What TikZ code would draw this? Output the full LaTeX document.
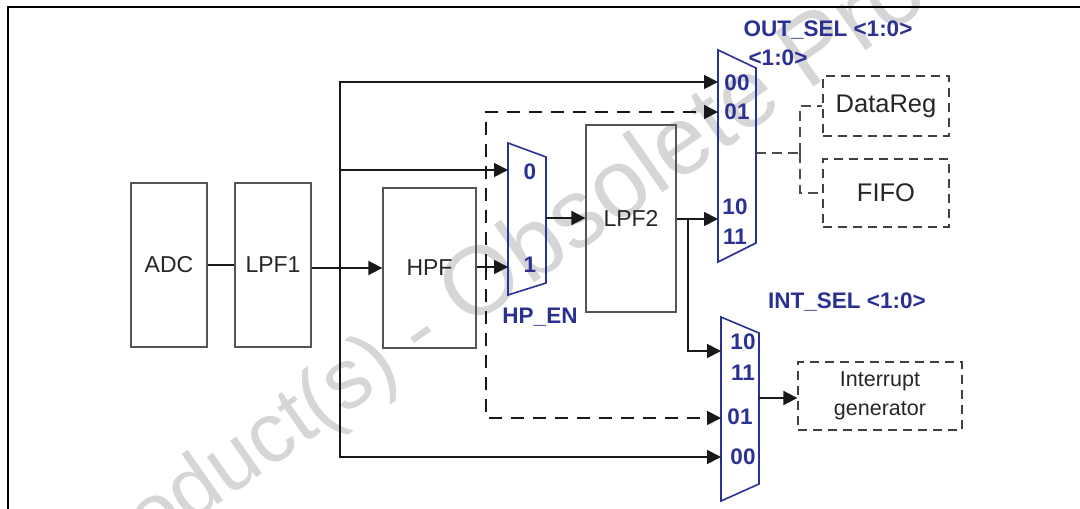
\documentclass[tikz,border=0pt]{standalone}
\usepackage{fontspec}
\setmainfont{Liberation Sans}
\usetikzlibrary{arrows.meta}
\definecolor{selblue}{RGB}{43,49,146}
\definecolor{boxgray}{RGB}{85,85,85}
\definecolor{wmgray}{RGB}{214,214,214}
\definecolor{linek}{RGB}{25,25,25}
\tikzset{
  blk/.style={draw=boxgray, line width=1.3pt, inner sep=0pt, text=black!85,
    font=\fontsize{23}{23}\selectfont},
  dbox/.style={draw=black!75, line width=1.3pt, dash pattern=on 9pt off 6pt,
    inner sep=0pt, text=black!85, align=center},
  sig/.style={draw=linek, line width=1.8pt},
  arr/.style={sig, -{Triangle[length=14pt,width=14pt]}},
  darr/.style={arr, dash pattern=on 13pt off 9pt},
  tapline/.style={draw=black!70, line width=1.1pt, dash pattern=on 10pt off 6pt},
  mux/.style={draw=selblue, line width=1.6pt},
  sel/.style={text=selblue, inner sep=0pt, font=\bfseries\fontsize{22.5}{22.5}\selectfont},
  wm/.style={text=wmgray, inner sep=0pt, rotate=35}
}
\begin{document}
\begin{tikzpicture}[x=1pt,y=-1pt]
\useasboundingbox (0,0) rectangle (1080,509);
% watermark
\begin{scope}
  \clip (0,0) rectangle (1080,509);
  \node[wm, anchor=base east, font=\fontsize{85}{85}\selectfont] (wmarkA) at (445.5,345.3) {Obsolete Product(s) -};
  \node[wm, anchor=base west, font=\fontsize{97}{97}\selectfont] (wmarkB) at (467.6,329.8) {Obsolete Product(s)};
\end{scope}
% frame
\draw[line width=1.8pt] (8,515) -- (8,7) -- (1085,7);

% blocks
\node[blk, minimum width=76pt, minimum height=164pt] (ADC) at (169,265) {ADC};
\node[blk, minimum width=76pt, minimum height=164pt] (LPF1) at (273,265) {LPF1};
\node[blk, minimum width=93pt, minimum height=160pt] (HPF) at (429.5,268) {HPF};
\node[blk, minimum width=90pt, minimum height=187pt] (LPF2) at (631,218.5) {LPF2};
\node[dbox, minimum width=126pt, minimum height=60pt, font=\fontsize{25.5}{25.5}\selectfont] (DataReg) at (886,106) {DataReg};
\node[dbox, minimum width=126pt, minimum height=68pt, font=\fontsize{25.5}{25.5}\selectfont] (FIFO) at (886,193) {FIFO};
\node[dbox, minimum width=164pt, minimum height=68pt, font=\fontsize{21.5}{29}\selectfont] (INTG) at (880,396) {Interrupt\\generator};

% multiplexers
\draw[mux] (508,143) -- (546,157) -- (546,283) -- (508,295) -- cycle;
\draw[mux] (718,50) -- (756,68) -- (756,243) -- (718,262) -- cycle;
\draw[mux] (721,317) -- (759,333) -- (759,484) -- (721,501) -- cycle;
\coordinate (hin0) at (508,170);
\coordinate (hin1) at (508,267);
\coordinate (hout) at (546,218);
\coordinate (oin00) at (718,82);
\coordinate (oin01) at (718,112);
\coordinate (oin10) at (718,219);
\coordinate (oout) at (756,153);
\coordinate (iin10) at (721,351);
\coordinate (iin01) at (721,418);
\coordinate (iin00) at (721,457);
\coordinate (iout) at (759,398);
% taps
\coordinate (t1) at (340,268);
\coordinate (t2) at (486,267);
\coordinate (t3) at (688,219);
\coordinate (t4) at (800,153);

% connectors
\draw[sig] (ADC) -- (LPF1);
\draw[arr] (LPF1.east |- HPF.west) -- (HPF.west);
\draw[arr] (t1) |- (oin00);
\draw[arr] (t1 |- hin0) -- (hin0);
\draw[arr] (t1) |- (iin00);
\draw[arr] (HPF.east |- hin1) -- (hin1);
\draw[darr] (t2) |- (oin01);
\draw[darr] (t2) |- (iin01);
\draw[arr] (hout) -- (LPF2.west |- hout);
\draw[arr] (LPF2.east |- oin10) -- (oin10);
\draw[arr] (t3) |- (iin10);
\draw[tapline] (oout) -- (t4);
\draw[tapline] (t4) |- (DataReg.west);
\draw[tapline] (t4) |- (FIFO.west);
\draw[arr] (iout) -- (INTG.west |- iout);

% labels
\node[sel] (outsel) at (828,30) {OUT\_SEL <1:0>};
\node[sel] (outsel2) at (778,58) {<1:0>};
\node[sel] (intsel) at (847,302) {INT\_SEL <1:0>};
\node[sel] (hpen) at (540,317) {HP\_EN};
\node[sel] (h0) at (530,172) {0};
\node[sel] (h1) at (530,265) {1};
\node[sel] (o00) at (737,83) {00};
\node[sel] (o01) at (737,112) {01};
\node[sel] (o10) at (735,207) {10};
\node[sel] (o11) at (735,237) {11};
\node[sel] (i10) at (743,342) {10};
\node[sel] (i11) at (743,373) {11};
\node[sel] (i01) at (740,417) {01};
\node[sel] (i00) at (743,457) {00};
\end{tikzpicture}
\end{document}
